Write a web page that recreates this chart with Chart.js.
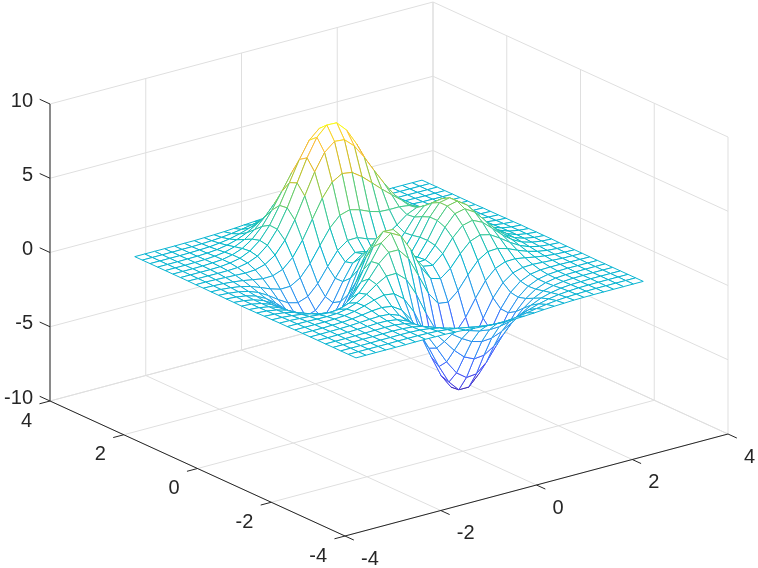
<!DOCTYPE html>
<html><head><meta charset="utf-8">
<style>html,body{margin:0;padding:0;background:#fff}canvas{display:block}</style>
<script src="https://cdn.jsdelivr.net/npm/chart.js@4"></script></head>
<body><canvas id="c" width="758" height="568"></canvas>
<script>
const xGrid=[-3,-2.7931,-2.5862,-2.3793,-2.1724,-1.9655,-1.7586,-1.5517,-1.3448,-1.1379,-.931,-.7241,-.5172,-.3103,-.1034,.1034,.3103,.5172,.7241,.931,1.1379,1.3448,1.5517,1.7586,1.9655,2.1724,2.3793,2.5862,2.7931,3];
const yGrid=[-3,-2.7931,-2.5862,-2.3793,-2.1724,-1.9655,-1.7586,-1.5517,-1.3448,-1.1379,-.931,-.7241,-.5172,-.3103,-.1034,.1034,.3103,.5172,.7241,.931,1.1379,1.3448,1.5517,1.7586,1.9655,2.1724,2.3793,2.5862,2.7931,3];
const zRows=[
[0,0,0,0,0,0,.01,.01,0,-.01,-.04,-.08,-.13,-.18,-.22,-.25,-.24,-.21,-.17,-.12,-.08,-.05,-.02,-.01,0,0,0,0,0,0],
[0,0,0,0,0,.01,.01,.01,-.01,-.04,-.11,-.2,-.32,-.44,-.55,-.59,-.58,-.51,-.41,-.29,-.19,-.11,-.06,-.03,-.01,0,0,0,0,0],
[0,0,0,0,.01,.01,.02,.01,-.02,-.1,-.23,-.43,-.68,-.94,-1.14,-1.24,-1.21,-1.06,-.84,-.6,-.39,-.23,-.12,-.06,-.02,-.01,0,0,0,0],
[0,0,0,.01,.01,.02,.03,.01,-.05,-.18,-.42,-.79,-1.24,-1.71,-2.09,-2.27,-2.22,-1.95,-1.55,-1.1,-.71,-.41,-.22,-.1,-.04,-.02,0,0,0,0],
[0,0,0,.01,.02,.03,.04,.03,-.06,-.27,-.65,-1.23,-1.97,-2.74,-3.36,-3.67,-3.6,-3.17,-2.51,-1.79,-1.15,-.66,-.34,-.16,-.06,-.02,-.01,0,0,0],
[0,0,.01,.01,.03,.05,.08,.07,-.03,-.29,-.8,-1.6,-2.64,-3.75,-4.67,-5.16,-5.09,-4.5,-3.56,-2.53,-1.61,-.91,-.46,-.2,-.07,-.02,-.01,0,0,0],
[0,0,.01,.02,.04,.08,.12,.15,.1,-.15,-.7,-1.63,-2.89,-4.3,-5.52,-6.22,-6.22,-5.53,-4.38,-3.09,-1.93,-1.06,-.5,-.2,-.06,-.01,.01,0,0,0],
[0,0,0,.02,.04,.09,.17,.27,.32,.22,-.2,-1.05,-2.35,-3.9,-5.34,-6.28,-6.43,-5.78,-4.57,-3.17,-1.9,-.97,-.39,-.1,.01,.03,.03,.02,.01,0],
[0,0,0,0,.02,.07,.18,.37,.59,.75,.66,.14,-.91,-2.38,-3.92,-5.06,-5.45,-5,-3.92,-2.6,-1.4,-.55,-.07,.12,.15,.11,.07,.03,.02,.01],
[-.01,-.01,-.02,-.04,-.05,-.02,.1,.34,.74,1.23,1.61,1.62,1.04,-.13,-1.61,-2.91,-3.57,-3.41,-2.59,-1.48,-.48,.17,.45,.47,.36,.23,.13,.06,.03,.01],
[-.01,-.02,-.06,-.1,-.16,-.2,-.15,.09,.59,1.36,2.21,2.8,2.79,2.02,.71,-.66,-1.53,-1.62,-1.03,-.14,.64,1.07,1.11,.92,.63,.38,.2,.09,.04,.01],
[-.02,-.04,-.1,-.19,-.33,-.49,-.57,-.45,.04,.94,2.12,3.19,3.68,3.32,2.21,.87,-.08,-.27,.24,1.05,1.71,1.96,1.8,1.39,.93,.54,.28,.13,.06,.02],
[-.02,-.06,-.14,-.29,-.53,-.82,-1.1,-1.18,-.85,.04,1.35,2.71,3.56,3.51,2.62,1.39,.5,.39,.99,1.88,2.54,2.71,2.4,1.82,1.2,.7,.36,.17,.07,.03],
[-.03,-.08,-.19,-.38,-.71,-1.15,-1.62,-1.93,-1.81,-1.07,.24,1.72,2.78,2.96,2.26,1.19,.46,.53,1.32,2.36,3.1,3.25,2.85,2.14,1.41,.82,.42,.2,.08,.03],
[-.04,-.09,-.21,-.44,-.83,-1.38,-2.01,-2.51,-2.59,-2.02,-.81,.68,1.84,2.18,1.66,.78,.23,.47,1.42,2.58,3.38,3.53,3.09,2.32,1.52,.88,.46,.21,.09,.03],
[-.04,-.09,-.22,-.46,-.87,-1.46,-2.16,-2.77,-3,-2.59,-1.52,-.12,1.04,1.47,1.12,.42,.04,.39,1.4,2.58,3.38,3.52,3.07,2.31,1.51,.88,.45,.21,.09,.03],
[-.03,-.09,-.21,-.44,-.82,-1.39,-2.08,-2.71,-3,-2.71,-1.82,-.58,.49,.94,.72,.19,-.06,.33,1.29,2.37,3.11,3.23,2.82,2.11,1.38,.8,.42,.19,.08,.03],
[-.03,-.08,-.18,-.37,-.71,-1.2,-1.79,-2.35,-2.62,-2.41,-1.66,-.6,.34,.79,.68,.3,.12,.45,1.23,2.11,2.69,2.77,2.39,1.79,1.17,.68,.35,.16,.07,.02],
[-.02,-.06,-.14,-.29,-.54,-.92,-1.37,-1.77,-1.94,-1.7,-1.01,-.04,.86,1.36,1.38,1.12,.93,1.07,1.52,2.04,2.34,2.29,1.94,1.42,.92,.53,.27,.13,.05,.02],
[-.02,-.04,-.1,-.2,-.37,-.62,-.89,-1.09,-1.07,-.68,.11,1.15,2.15,2.82,3.02,2.84,2.55,2.36,2.32,2.33,2.24,1.97,1.56,1.11,.7,.4,.2,.09,.04,.01],
[-.01,-.03,-.06,-.12,-.21,-.33,-.44,-.42,-.17,.45,1.44,2.68,3.91,4.82,5.22,5.12,4.66,4.07,3.47,2.91,2.37,1.83,1.32,.87,.52,.29,.14,.07,.03,.01],
[-.01,-.01,-.03,-.06,-.09,-.12,-.08,.11,.56,1.38,2.57,4.01,5.45,6.58,7.15,7.09,6.49,5.56,4.49,3.46,2.53,1.76,1.15,.71,.4,.21,.1,.04,.02,.01],
[0,-.01,-.01,-.02,-.01,.02,.15,.43,.99,1.89,3.15,4.65,6.16,7.37,8.02,7.99,7.32,6.22,4.92,3.64,2.53,1.65,1.01,.58,.31,.15,.07,.03,.01,0],
[0,0,0,0,.02,.09,.23,.54,1.08,1.92,3.08,4.44,5.82,6.94,7.55,7.54,6.91,5.85,4.58,3.33,2.25,1.41,.83,.45,.23,.11,.05,.02,.01,0],
[0,0,0,.01,.04,.09,.23,.48,.93,1.61,2.53,3.61,4.7,5.6,6.1,6.09,5.59,4.72,3.68,2.64,1.76,1.08,.62,.33,.16,.07,.03,.01,0,0],
[0,0,0,.01,.03,.08,.17,.36,.67,1.15,1.79,2.54,3.3,3.92,4.27,4.27,3.92,3.31,2.57,1.84,1.21,.74,.42,.22,.1,.05,.02,.01,0,0],
[0,0,0,.01,.02,.05,.11,.23,.42,.71,1.11,1.57,2.03,2.41,2.63,2.63,2.41,2.03,1.58,1.12,.74,.45,.25,.13,.06,.03,.01,0,0,0],
[0,0,0,0,.01,.03,.06,.13,.23,.39,.6,.85,1.11,1.31,1.43,1.43,1.31,1.11,.86,.61,.4,.24,.13,.07,.03,.01,.01,0,0,0],
[0,0,0,0,.01,.01,.03,.06,.11,.19,.29,.41,.53,.63,.69,.69,.63,.53,.41,.29,.19,.12,.06,.03,.02,.01,0,0,0,0],
[0,0,0,0,0,.01,.01,.03,.05,.08,.12,.17,.22,.27,.29,.29,.27,.22,.17,.12,.08,.05,.03,.01,.01,0,0,0,0,0]
];
const xTicks=[-4,-2,0,2,4];
const yTicks=[-4,-2,0,2,4];
const zTicks=[-10,-5,0,5,10];
const parula=[[.2422,.1504,.6603],[.2647,.1978,.7952],[.2783,.2559,.8991],[.2813,.3006,.9414],[.2795,.3447,.9717],[.2699,.3892,.9906],[.2440,.4358,.9988],[.1963,.4847,.9892],[.1786,.5289,.9682],[.1687,.5703,.9359],[.1460,.6091,.9079],[.1248,.6459,.8883],[.0952,.6798,.8598],[.0297,.7082,.8163],[.0067,.7312,.7660],[.0964,.7500,.7120],[.1717,.7670,.6554],[.2161,.7843,.5923],[.2906,.7973,.5188],[.3909,.8029,.4354],[.5044,.7993,.3480],[.6174,.7876,.2612],[.7242,.7698,.1910],[.8203,.7498,.1535],[.9035,.7330,.1774],[.9728,.7298,.2394],[.9970,.7659,.2199],[.9892,.8132,.1636],[.9598,.8965,.1000],[.9769,.9839,.0805]];

const O={x:389,y:269}, EX={x:47.875,y:-12.75}, EY={x:-36.875,y:-16.875}, EZy=-14.85;
const proj=(x,y,z)=>({x:O.x+x*EX.x+y*EY.x, y:O.y+x*EX.y+y*EY.y+z*EZy});

const zAll=zRows.flat(), zMin=Math.min(...zAll), zMax=Math.max(...zAll);
function colorOf(z){
  const t=Math.max(0,Math.min(1,(z-zMin)/(zMax-zMin)))*(parula.length-1);
  const i=Math.min(parula.length-2,Math.floor(t)), f=t-i;
  const c=parula[i].map((v,k)=>Math.round(255*(v+(parula[i+1][k]-v)*f)));
  return `rgb(${c[0]},${c[1]},${c[2]})`;
}

const datasets=[];
// nearest cells come first: Chart.js paints the lowest dataset index last
for(let i=0;i<yGrid.length-1;i++){
  for(let j=0;j<xGrid.length-1;j++){
    const idx=[[i,j],[i,j+1],[i+1,j+1],[i+1,j],[i,j]];
    const pts=idx.map(([a,b])=>proj(xGrid[b],yGrid[a],zRows[a][b]));
    const edge=[zRows[i][j],zRows[i][j+1],zRows[i+1][j],zRows[i][j]].map(colorOf);
    datasets.push({data:pts,showLine:true,pointRadius:0,borderWidth:1,tension:0,
      borderColor:edge[0],fill:false,clip:false,maskCell:true,
      segment:{borderColor:ctx=>edge[ctx.p0DataIndex]}});
  }
}
function addLine(a,b,color,w){
  datasets.push({data:[proj(...a),proj(...b)],showLine:true,pointRadius:0,borderWidth:w,borderColor:color,fill:false,clip:false});
}
const AX='#262626', GR='#dfdfdf';
const x0=xTicks[0],x1=xTicks[xTicks.length-1],y0=yTicks[0],y1=yTicks[yTicks.length-1],z0=zTicks[0],z1=zTicks[zTicks.length-1];
// axes lines and tick marks
addLine([x0,y1,z0],[x0,y1,z1],AX,1);
addLine([x0,y0,z0],[x0,y1,z0],AX,1);
addLine([x0,y0,z0],[x1,y0,z0],AX,1);
xTicks.forEach(x=>addLine([x,y0,z0],[x,y0-.24,z0],AX,1));
yTicks.forEach(y=>addLine([x0,y,z0],[x0-.22,y,z0],AX,1));
zTicks.forEach(z=>addLine([x0,y1,z],[x0,y1+.28,z],AX,1));
// grid on floor and two back walls
xTicks.forEach(x=>{addLine([x,y0,z0],[x,y1,z0],GR,1);addLine([x,y1,z0],[x,y1,z1],GR,1);});
yTicks.forEach(y=>{addLine([x0,y,z0],[x1,y,z0],GR,1);addLine([x1,y,z0],[x1,y,z1],GR,1);});
zTicks.forEach(z=>{addLine([x0,y1,z],[x1,y1,z],GR,1);addLine([x1,y1,z],[x1,y0,z],GR,1);});

// white faces hide what lies behind each cell, as a hidden-line mesh does
const cellMask={id:'cellMask',beforeDatasetDraw(chart,args){
  const ds=chart.data.datasets[args.index];
  if(!ds.maskCell)return;
  const pts=args.meta.data,c=chart.ctx;
  c.save();c.fillStyle='#ffffff';c.beginPath();
  pts.forEach((p,k)=>k?c.lineTo(p.x,p.y):c.moveTo(p.x,p.y));
  c.closePath();c.fill();c.restore();
}};
const tickText={id:'tickText',afterDraw(chart){
  const c=chart.ctx,sx=chart.scales.x,sy=chart.scales.y;
  const put=(s,px,py,al)=>{c.textAlign=al;c.fillText(s,px,py);};
  c.save();c.font='20px "Liberation Sans"';c.fillStyle='#262626';c.textBaseline='middle';
  xTicks.forEach(x=>{const p=proj(x,y0,z0);put(String(x),sx.getPixelForValue(p.x)+16,sy.getPixelForValue(p.y)+23,'left');});
  yTicks.forEach(y=>{const p=proj(x0,y,z0);put(String(y),sx.getPixelForValue(p.x)-18,sy.getPixelForValue(p.y)+20,'right');});
  zTicks.forEach(z=>{const p=proj(x0,y1,z);put(String(z),sx.getPixelForValue(p.x)-17,sy.getPixelForValue(p.y)-3,'right');});
  c.restore();
}};

new Chart(document.getElementById('c'),{type:'scatter',data:{datasets},plugins:[cellMask,tickText],
 options:{responsive:false,animation:false,devicePixelRatio:1,layout:{padding:0},
  plugins:{legend:{display:false},tooltip:{enabled:false}},
  events:[],
  scales:{x:{type:'linear',min:0,max:758,display:false},y:{type:'linear',min:0,max:568,reverse:true,display:false}}}});
</script></body></html>
